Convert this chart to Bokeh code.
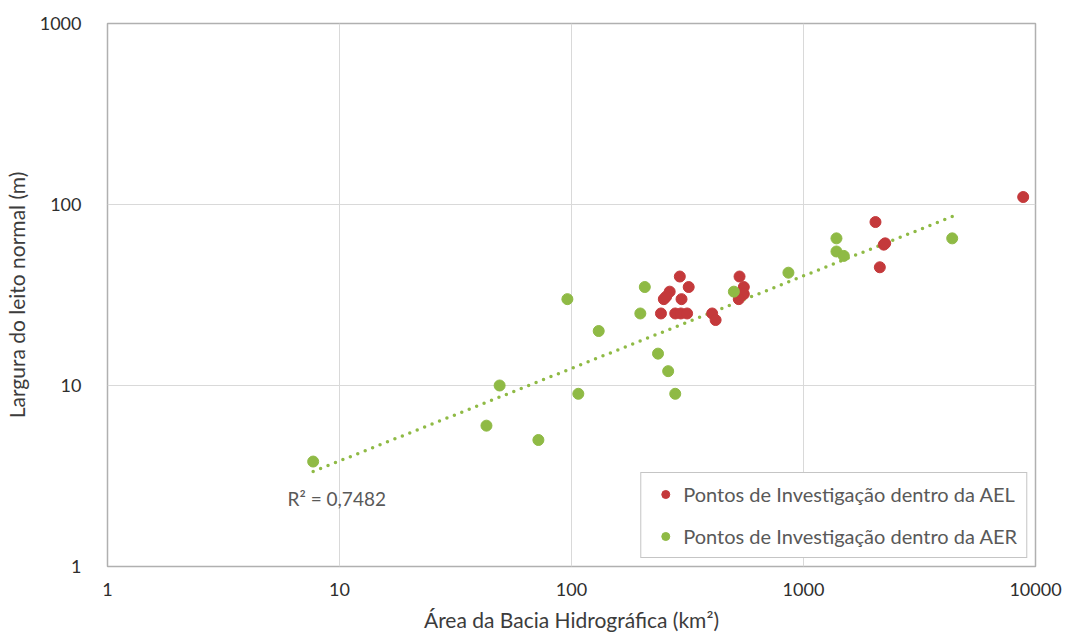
import numpy as np
from bokeh.plotting import figure
from bokeh.models import FixedTicker, NumeralTickFormatter, Legend, LegendItem, Label
from bokeh.embed import file_html
from bokeh.resources import INLINE

# ---- data ----
ael_area = [293, 265, 320, 250, 256, 298, 243, 280, 296, 315, 404, 418,
            530, 553, 553, 526, 2043, 2218, 2250, 2133, 8850]
ael_width = [40, 33, 35, 30, 31, 30, 25, 25, 25, 25, 25, 23,
             40, 35, 32, 30, 80, 60, 61, 45, 110]

aer_area = [7.7, 43, 49, 72, 96, 107, 131, 198, 207, 236, 261, 280,
            501, 861, 1387, 1387, 1492, 4375]
aer_width = [3.8, 6, 10, 5, 30, 9, 20, 25, 35, 15, 12, 9,
             33, 42, 65, 55, 52, 65]

ticks = [1, 10, 100, 1000, 10000]
y_ticks = [1, 10, 100, 1000]
r2_text = "R² = 0,7482"
ael_label = "Pontos de Investigação dentro da AEL"
aer_label = "Pontos de Investigação dentro da AER"
x_title = "Área da Bacia Hidrográfica (km²)"
y_title = "Largura do leito normal (m)"

RED = "#c4393b"
GREEN = "#8fba45"
FONT = "Lato"

p = figure(width=1065, height=637, x_axis_type="log", y_axis_type="log",
           x_range=(1, 10000), y_range=(1, 1000),
           output_backend="svg", toolbar_location=None,
           min_border_left=107, min_border_right=30,
           min_border_top=23, min_border_bottom=71)

p.outline_line_color = "#b0b0b0"
p.outline_line_width = 1.5
p.background_fill_color = "white"
p.border_fill_color = "white"

for ax, tk in ((p.xaxis, ticks), (p.yaxis, y_ticks)):
    ax.ticker = FixedTicker(ticks=tk)
    ax.formatter = NumeralTickFormatter(format="0")
    ax.major_tick_line_color = None
    ax.minor_tick_line_color = None
    ax.axis_line_color = None
    ax.major_label_text_font = FONT
    ax.major_label_text_font_size = "18px"
    ax.major_label_text_color = "#2e2e2e"
    ax.axis_label_text_font = FONT
    ax.axis_label_text_font_size = "21px"
    ax.axis_label_text_font_style = "normal"
    ax.axis_label_text_color = "#3c3c3c"

p.xaxis.axis_label = x_title
p.yaxis.axis_label = y_title
p.xaxis.major_label_standoff = 10
p.yaxis.major_label_standoff = 20
p.xaxis.axis_label_standoff = 8
p.yaxis.axis_label_standoff = 8

p.xgrid.ticker = FixedTicker(ticks=ticks)
p.ygrid.ticker = FixedTicker(ticks=y_ticks)
p.grid.grid_line_color = "#d9d9d9"
p.grid.grid_line_width = 1
p.xgrid.minor_grid_line_color = None
p.ygrid.minor_grid_line_color = None

# power trend line for the AER series (least squares on log-log)
lx = np.log10(aer_area)
ly = np.log10(aer_width)
b, a = np.polyfit(lx, ly, 1)
tx = np.logspace(lx.min(), lx.max(), 2)
ty = 10 ** (a + b * np.log10(tx))
p.line(tx, ty, line_color=GREEN, line_width=3.5, line_dash="0 8", line_cap="round")

r_ael = p.scatter(ael_area, ael_width, size=11, color=RED, line_color=RED)
r_aer = p.scatter(aer_area, aer_width, size=11, color=GREEN, line_color=GREEN)

p.add_layout(Label(x=5.97, y=2.37, text=r2_text, text_font=FONT,
                   text_font_size="19px", text_color="#595959",
                   text_baseline="middle", text_align="left"))

legend = Legend(items=[LegendItem(label=ael_label, renderers=[r_ael]),
                       LegendItem(label=aer_label, renderers=[r_aer])],
                location="bottom_right")
legend.margin = 8
legend.padding = 9
legend.spacing = 18
legend.glyph_width = 30
legend.glyph_height = 20
legend.label_height = 22
legend.label_standoff = 3
legend.label_text_font = FONT
legend.label_text_font_size = "20px"
legend.label_text_color = "#595959"
legend.border_line_color = "#8c8c8c"
legend.border_line_width = 1
legend.background_fill_color = "white"
legend.background_fill_alpha = 1
p.add_layout(legend, "center")

open("out.html", "w").write(file_html(p, INLINE))
